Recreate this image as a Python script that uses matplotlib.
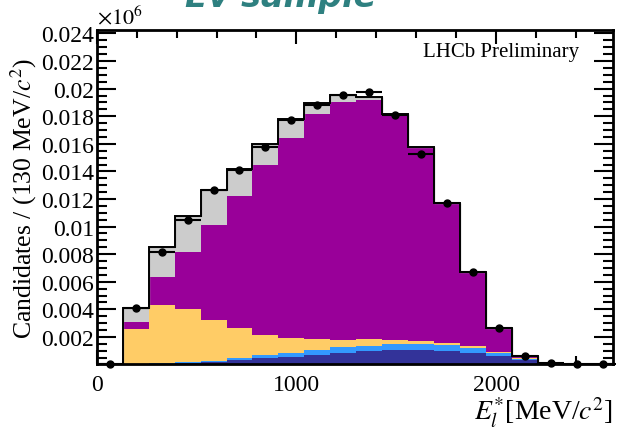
import numpy as np
import matplotlib
matplotlib.use("Agg")
import matplotlib.pyplot as plt
from matplotlib.ticker import MultipleLocator, FixedLocator, FuncFormatter

plt.rcParams['font.family'] = ['Liberation Serif', 'DejaVu Serif']
plt.rcParams['mathtext.fontset'] = 'stix'

# ---- data (values as shown on the axis, x10^6) ----
bin_edges = np.arange(0, 2601, 130)
dark_blue = [0, 0.00003, 0.00005, 0.00008, 0.00016, 0.0003, 0.00046, 0.00057, 0.0007, 0.00085,
             0.00095, 0.00105, 0.00108, 0.001, 0.00085, 0.00062, 0.0003, 0, 0, 0]
light_blue = [0, 0.00002, 0.00003, 0.00008, 0.00012, 0.00015, 0.0002, 0.00029, 0.00038, 0.0004,
              0.00042, 0.00041, 0.00037, 0.0004, 0.00037, 0.00021, 0.00007, 0, 0, 0]
yellow = [0, 0.00253, 0.00424, 0.00387, 0.00297, 0.00218, 0.00146, 0.00109, 0.00076, 0.00052,
          0.00045, 0.0003, 0.00027, 0.00018, 0.00013, 0.0001, 0.00008, 0, 0, 0]
purple = [0, 0.00048, 0.00201, 0.00412, 0.00683, 0.00957, 0.01231, 0.01447, 0.01635, 0.01726,
          0.01733, 0.01634, 0.01398, 0.01012, 0.0053, 0.00167, 0.0001, 0.00002, 0, 0]
gray = [0, 0.00104, 0.00222, 0.00265, 0.00254, 0.00194, 0.00153, 0.00138, 0.00077, 0.00052,
        0.00025, 0.00009, 0.00007, 0.00002, 0.00004, 0.00003, 0.00009, 0.00001, 0, 0]
data = [0.00005, 0.0041, 0.00817, 0.01044, 0.01267, 0.0141, 0.01579, 0.01775, 0.01884, 0.01957,
        0.01976, 0.01811, 0.01528, 0.01168, 0.0067, 0.00263, 0.00064, 0.0001, 0.00003, 0.00002]
y_ticks = [0.002, 0.004, 0.006, 0.008, 0.01, 0.012, 0.014, 0.016, 0.018, 0.02, 0.022, 0.024]
x_ticks = [0, 1000, 2000]

components = [
    (dark_blue, '#333399'),
    (light_blue, '#3399ff'),
    (yellow, '#ffcc66'),
    (purple, '#990099'),
    (gray, '#cccccc'),
]

fig = plt.figure(figsize=(6.17, 4.31), dpi=100)
ax = fig.add_axes([0.1567, 0.152, 0.8368, 0.776])

left = bin_edges[:-1]
width = np.diff(bin_edges)
centers = left + width / 2
bottom = np.zeros(len(left))
for vals, col in components:
    vals = np.array(vals)
    ax.bar(left, vals, width=width, bottom=bottom, align='edge', color=col,
           linewidth=0, zorder=2)
    bottom = bottom + vals

ax.stairs(bottom, bin_edges, color='#999999', linewidth=1.0, zorder=3)
ax.stairs(bottom, bin_edges, color='black', linewidth=1.4, zorder=3)

ax.errorbar(centers, data, xerr=width / 2, fmt='o', color='black', ms=5,
            elinewidth=1.5, capsize=0, zorder=5, clip_on=False)

ax.set_xlim(0, 2585)
ax.set_ylim(0, 0.02425)

ax.xaxis.set_major_locator(FixedLocator(x_ticks))
ax.xaxis.set_minor_locator(MultipleLocator(200))
ax.yaxis.set_major_locator(FixedLocator(y_ticks))
ax.yaxis.set_minor_locator(MultipleLocator(0.0005))
ax.yaxis.set_major_formatter(FuncFormatter(lambda v, p: '%g' % v))
ax.xaxis.set_major_formatter(FuncFormatter(lambda v, p: '%d' % v))

ax.tick_params(which='both', direction='in', top=True, right=True, labelsize=17, width=1.5)
ax.tick_params(axis='y', which='major', length=14, pad=2)
ax.tick_params(axis='y', which='minor', length=7)
ax.tick_params(axis='x', which='major', length=10, pad=7)
ax.tick_params(axis='x', which='minor', length=6)
for s in ax.spines.values():
    s.set_linewidth(2)
    s.set_zorder(6)

ax.set_ylabel('Candidates / (130 MeV/$c^{2}$)', fontsize=18.5)
ax.yaxis.set_label_coords(-0.112, 0.5)
ax.set_xlabel('$E_{l}^{*}$[MeV/$c^{2}$]', fontsize=20, ha='right', x=1.0, labelpad=0)

ax.text(0.0, 1.005, r'$\times10^{6}$', transform=ax.transAxes, fontsize=16,
        ha='left', va='bottom')
ax.text(0.935, 0.935, 'LHCb Preliminary', transform=ax.transAxes, fontsize=15,
        ha='right', va='center')

fig.text(0.455, 1.005, 'Ev sample', color='#2e8080', fontsize=24, fontweight='bold',
         style='italic', family='DejaVu Sans', ha='center', va='center')

fig.savefig('out.png', dpi=100)
